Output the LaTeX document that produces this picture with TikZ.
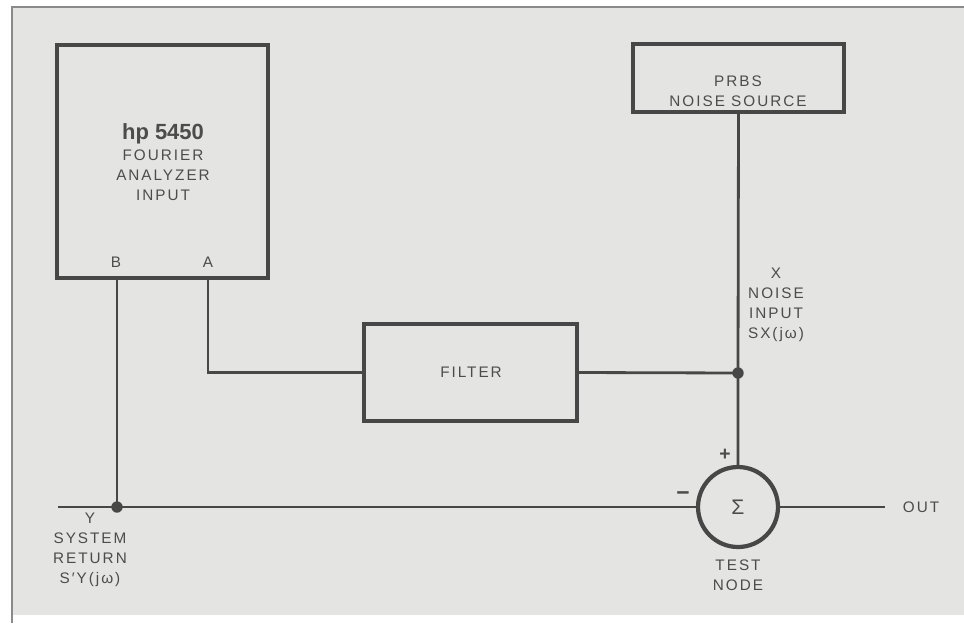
\documentclass[tikz,border=0pt]{standalone}
\usepackage{fontspec}
\setmainfont{Liberation Sans}
\newfontfamily\lblfont[LetterSpace=13]{Liberation Sans}
\usepackage{xcolor}
\usetikzlibrary{positioning}

\definecolor{bggray}{HTML}{E4E4E2}
\definecolor{linegray}{HTML}{474747}
\definecolor{textgray}{HTML}{4C4C4C}
\definecolor{framegray}{HTML}{8A8A8A}

\begin{document}
\begin{tikzpicture}[
    % one unit is one pixel of the reference
        x=0.02cm, y=-0.02cm,
        box/.style={draw=linegray, line width=2.4pt, fill=bggray, rectangle, inner sep=0pt},
        wire/.style={draw=linegray, line width=1.6pt},
        lbl/.style={text=textgray, align=center, inner sep=0pt,
            font=\lblfont\fontsize{8.7}{11.3}\selectfont},
        dot/.style={circle, fill=linegray, inner sep=0pt, minimum size=6.5pt}
    ]
        \useasboundingbox (0,0) rectangle (964,623);

        % background and frame
        \fill[bggray] (12,7) rectangle (964,615);
        \draw[framegray, line width=1.4pt] (12,623) -- (12,7) -- (964,7);

        % Define the blocks
        \node[box, minimum width=4.22cm, minimum height=4.66cm] (analyzer) at (162.5,161.5) {};
        \node[lbl] (analyzertext) at (163,162)
            {{\normalfont\bfseries\fontsize{12.5}{14}\selectfont hp 5450}\\[1pt]FOURIER\\ANALYZER\\INPUT};
        \node[lbl] (portBtext) at (116,262) {B};
        \node[lbl] (portAtext) at (208,262) {A};

        \node[box, minimum width=4.22cm, minimum height=1.36cm] (prbs) at (738.5,78) {};
        \node[lbl] (prbstext) at (738,91) {PRBS\\NOISE SOURCE};

        \node[box, minimum width=4.26cm, minimum height=1.94cm] (filter) at (470.5,372.5) {};
        \node[lbl] (filtertext) at (471,372) {FILTER};

        \node[draw=linegray, line width=2.4pt, circle, minimum size=1.6cm, inner sep=0pt,
            fill=bggray, text=textgray, font=\fontsize{12}{14}\selectfont] (sum) at (738,507) {Σ};

        % junctions and free ends
        \coordinate (portB) at (117,278);
        \coordinate (portA) at (208,278);
        \node[dot] (ydot) at (117,507) {};
        \node[dot] (xdot) at (738,373) {};
        \coordinate (ystart) at (58,507);
        \coordinate (outend) at (885,507);

        % Draw the wires
        \draw[wire] (portB) -- (ydot.center);
        \draw[wire] (portA) |- (filter.west);
        \draw[wire] (filter.east) -- (xdot.center);
        \draw[wire] (prbs.south) -- (xdot.center) -- (sum.north);
        \draw[wire] (ystart) -- (ydot.center) -- (sum.west);
        \draw[wire] (sum.east) -- (outend);

        % signal labels
        \node[lbl] (xlabel) at (776,305) {X\\NOISE\\INPUT\\SX(jω)};
        \node[lbl] (ylabel) at (90,550) {Y\\SYSTEM\\RETURN\\S′Y(jω)};
        \node[lbl] (testlabel) at (738,575) {TEST\\NODE};
        \node[lbl] (outlabel) at (921,507) {OUT};
        \node[lbl, font=\bfseries\fontsize{11}{13}\selectfont] (plus) at (725,455) {+};
        \node[lbl, font=\bfseries\fontsize{13}{15}\selectfont] (minus) at (683,496) {−};
    \end{tikzpicture}
\end{document}
